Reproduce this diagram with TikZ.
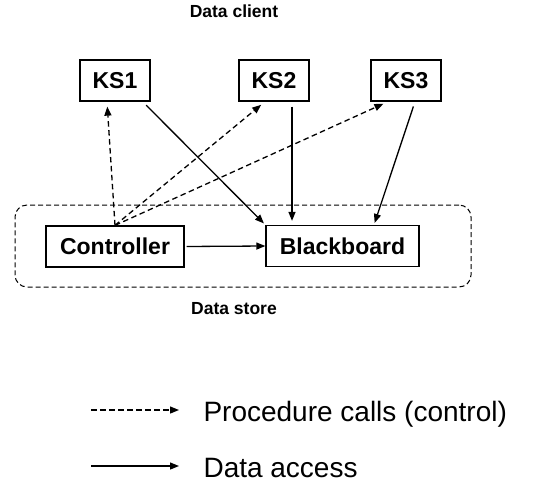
\documentclass[tikz,border=0pt]{standalone}
\usepackage{fontspec}
\setmainfont{Liberation Sans}
\usetikzlibrary{arrows.meta, positioning, calc}

\begin{document}
\begin{tikzpicture}[
    x=1pt, y=-1pt,
    box/.style={rectangle, draw, line width=1.3pt,
                minimum height=41pt, inner sep=0pt,
                font=\fontsize{23}{27}\selectfont\bfseries},
    store/.style={rectangle, draw, dash pattern=on 5pt off 3pt,
                  rounded corners=12pt, line width=1pt,
                  minimum width=456pt, minimum height=82pt},
    caption/.style={font=\fontsize{17.5}{21}\selectfont\bfseries},
    legend/.style={font=\fontsize{28}{32}\selectfont, anchor=base west},
    arr/.style={-{Triangle[length=9pt, width=7pt]}, line width=1.3pt},
    ctl/.style={arr, dash pattern=on 5.5pt off 3.5pt}
]
    \useasboundingbox (0,0) rectangle (534,501);

    \node[store] (ds) at (243,246) {};
    \node[caption] (client) at (234,11) {Data client};
    \node[caption] (dstore) at (234,309) {Data store};

    \node[box, minimum width=70pt] (ks1) at (115,80.5) {KS1};
    \node[box, minimum width=70pt] (ks2) at (274,80.5) {KS2};
    \node[box, minimum width=70pt] (ks3) at (406,80.5) {KS3};
    \node[box, minimum width=138pt] (ctrl) at (115,246.5) {Controller};
    \node[box, minimum width=153pt] (bb) at (342.5,246) {Blackboard};

    % procedure calls
    \draw[ctl, shorten >=5pt] (ctrl.north) -- ([xshift=-8pt]ks1.south);
    \draw[ctl, shorten >=5pt] (ctrl.north) -- ([xshift=-9pt]ks2.south);
    \draw[ctl, shorten >=5pt] (ctrl.north) -- ([xshift=-18pt]ks3.south);

    % data access
    \draw[arr, shorten <=5pt, shorten >=2pt] ([xshift=-8pt]ks1.south east) -- (bb.north west);
    \draw[arr, shorten <=5pt, shorten >=4pt] ([xshift=18pt]ks2.south) -- ([xshift=18pt]ks2.south |- bb.north);
    \draw[arr, shorten <=5pt, shorten >=2pt] ([xshift=9pt]ks3.south) -- ([xshift=31.5pt]bb.north);
    \draw[arr, shorten <=2pt] (ctrl.east) -- (bb.west);

    % legend
    \coordinate (l1a) at (91,410);
    \coordinate (l1b) at (179,410);
    \coordinate (l2a) at (91,466);
    \coordinate (l2b) at (179,466);
    \draw[ctl] (l1a) -- (l1b);
    \draw[arr] (l2a) -- (l2b);
    \node[legend] (lgctl) at (200,421) {Procedure calls (control)};
    \node[legend] (lgdata) at (200,477) {Data access};
\end{tikzpicture}
\end{document}
